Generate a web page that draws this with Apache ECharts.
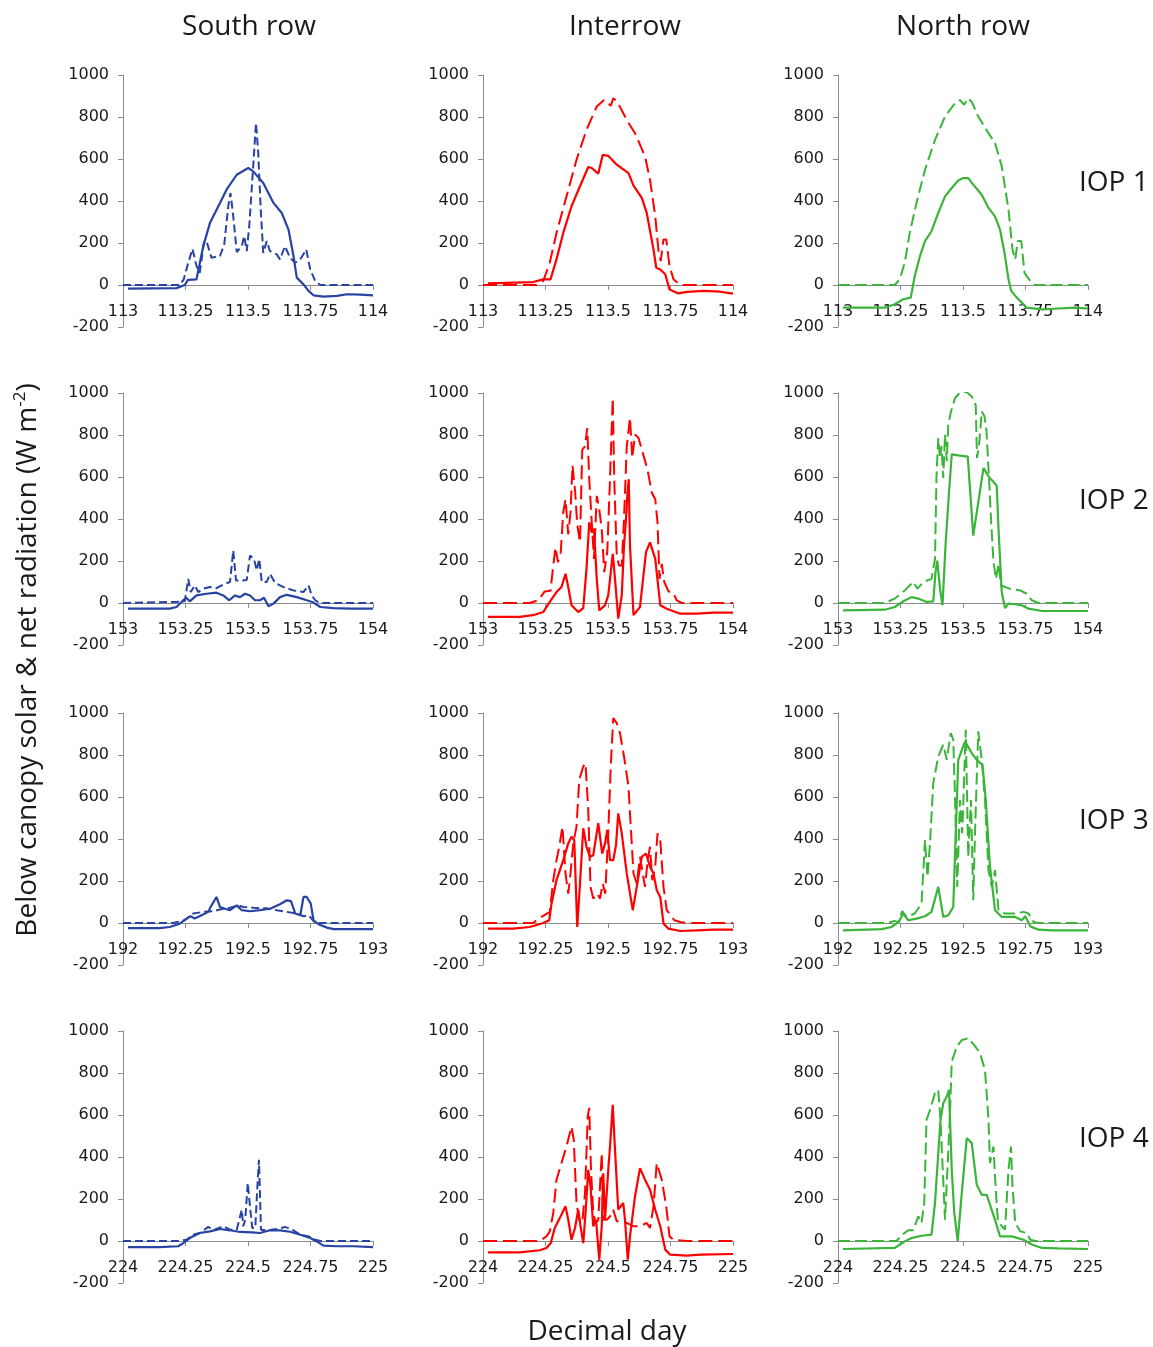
<!DOCTYPE html>
<html>
<head>
<meta charset="utf-8">
<script src="https://cdn.jsdelivr.net/npm/echarts@6/dist/echarts.min.js"></script>
<style>
  html, body { margin: 0; padding: 0; background: #fff; }
  #chart { width: 1153px; height: 1347px; }
</style>
</head>
<body>
<div id="chart"></div>
<script>
// Decimal day at the start of each IOP (rows)
const days = [113, 153, 192, 224];
const columnTitles = ['South row', 'Interrow', 'North row'];
const iopLabels = ['IOP 1', 'IOP 2', 'IOP 3', 'IOP 4'];
const yMin = -200, yMax = 1000, yStep = 200;

// Each point: [fraction of the day, W m-2]. "net" = net radiation (solid), "solar" = solar radiation (dashed)

// ---- IOP 1 ----
const south1Net = [[0.02,-17],[0.214,-15],[0.247,0],[0.26,24],[0.294,27],[0.321,185],[0.348,296],[0.388,390],[0.414,454],[0.455,525],[0.501,557],[0.521,541],[0.561,486],[0.602,391],[0.635,343],[0.662,264],[0.682,138],[0.695,35],[0.722,3],[0.742,-28],[0.762,-49],[0.802,-55],[0.856,-52],[0.896,-44],[0.949,-46],[1.0,-49]];
const south1Solar = [[0.0,0],[0.227,0],[0.243,27],[0.261,106],[0.278,172],[0.294,90],[0.307,58],[0.324,204],[0.334,209],[0.354,130],[0.388,138],[0.405,193],[0.421,375],[0.43,438],[0.441,327],[0.455,157],[0.475,185],[0.485,233],[0.495,161],[0.505,280],[0.519,533],[0.532,771],[0.541,628],[0.551,359],[0.561,153],[0.575,209],[0.588,161],[0.615,146],[0.628,122],[0.648,185],[0.668,130],[0.689,106],[0.709,122],[0.733,169],[0.749,74],[0.769,19],[0.789,0],[1.0,0]];
const inter1Net = [[0.02,8],[0.2,14],[0.241,27],[0.27,27],[0.294,122],[0.321,248],[0.354,375],[0.388,470],[0.421,562],[0.435,557],[0.461,530],[0.479,620],[0.501,615],[0.535,573],[0.582,533],[0.602,473],[0.635,415],[0.655,343],[0.682,169],[0.693,82],[0.709,74],[0.729,51],[0.746,-21],[0.782,-40],[0.816,-33],[0.882,-28],[0.949,-32],[1.0,-41]];
const inter1Solar = [[0.0,0],[0.214,0],[0.241,19],[0.267,106],[0.294,248],[0.334,422],[0.374,596],[0.414,739],[0.455,850],[0.484,881],[0.501,866],[0.511,853],[0.521,889],[0.537,873],[0.575,786],[0.608,723],[0.628,668],[0.648,612],[0.668,502],[0.689,327],[0.702,161],[0.711,114],[0.722,217],[0.733,217],[0.746,90],[0.762,27],[0.789,0],[1.0,0]];
const north1Net = [[0.02,-108],[0.187,-108],[0.227,-92],[0.261,-68],[0.291,-60],[0.307,43],[0.328,138],[0.348,209],[0.374,256],[0.401,343],[0.428,422],[0.455,462],[0.481,498],[0.501,509],[0.521,509],[0.541,478],[0.575,430],[0.602,367],[0.628,327],[0.648,264],[0.666,153],[0.682,27],[0.693,-28],[0.715,-60],[0.735,-84],[0.755,-108],[0.816,-116],[0.882,-112],[0.949,-108],[1.0,-112]];
const north1Solar = [[0.0,0],[0.227,0],[0.247,27],[0.267,106],[0.287,248],[0.314,391],[0.348,549],[0.388,691],[0.428,802],[0.468,866],[0.488,881],[0.505,858],[0.519,889],[0.535,873],[0.561,802],[0.602,723],[0.628,676],[0.655,565],[0.682,359],[0.698,169],[0.709,122],[0.719,209],[0.733,209],[0.746,58],[0.769,19],[0.789,0],[1.0,0]];

// ---- IOP 2 ----
const south2Net = [[0.02,-27],[0.187,-27],[0.214,-19],[0.241,13],[0.254,24],[0.267,8],[0.294,36],[0.334,44],[0.374,49],[0.401,36],[0.425,13],[0.448,36],[0.468,28],[0.488,44],[0.508,36],[0.528,13],[0.548,13],[0.564,25],[0.582,-16],[0.602,-3],[0.628,28],[0.655,39],[0.695,28],[0.735,13],[0.762,2],[0.789,-19],[0.842,-24],[0.909,-27],[1.0,-27]];
const south2Solar = [[0.0,0],[0.207,5],[0.247,8],[0.261,115],[0.271,52],[0.287,84],[0.301,52],[0.321,68],[0.348,76],[0.374,71],[0.408,92],[0.428,100],[0.441,250],[0.452,107],[0.475,107],[0.495,110],[0.508,226],[0.524,210],[0.535,155],[0.545,210],[0.555,100],[0.575,100],[0.588,139],[0.608,96],[0.642,76],[0.682,60],[0.722,52],[0.742,84],[0.755,36],[0.769,13],[0.789,0],[1.0,0]];
const inter2Net = [[0.02,-66],[0.147,-66],[0.2,-58],[0.241,-43],[0.267,5],[0.294,52],[0.314,76],[0.33,139],[0.341,76],[0.354,-11],[0.381,-43],[0.401,-24],[0.414,163],[0.425,384],[0.435,336],[0.444,352],[0.455,115],[0.465,-35],[0.488,-11],[0.501,36],[0.519,234],[0.528,115],[0.541,-74],[0.555,36],[0.564,273],[0.572,400],[0.578,526],[0.583,589],[0.588,273],[0.602,-58],[0.628,-19],[0.652,242],[0.668,289],[0.689,210],[0.709,-11],[0.735,-27],[0.789,-51],[0.856,-51],[0.922,-46],[1.0,-46]];
const inter2Solar = [[0.0,0],[0.187,0],[0.221,13],[0.247,55],[0.27,58],[0.281,178],[0.29,265],[0.3,194],[0.311,242],[0.321,431],[0.33,494],[0.341,327],[0.35,431],[0.358,656],[0.368,537],[0.377,374],[0.388,289],[0.397,730],[0.408,746],[0.417,833],[0.425,589],[0.435,384],[0.444,210],[0.455,510],[0.464,455],[0.475,352],[0.485,147],[0.497,242],[0.508,589],[0.519,976],[0.525,589],[0.535,226],[0.544,178],[0.555,178],[0.564,400],[0.575,747],[0.588,882],[0.597,690],[0.608,802],[0.622,786],[0.639,715],[0.658,636],[0.675,526],[0.689,494],[0.698,384],[0.706,115],[0.715,186],[0.725,100],[0.742,55],[0.759,52],[0.775,13],[0.795,0],[1.0,0]];
const north2Net = [[0.02,-35],[0.187,-32],[0.227,-19],[0.261,8],[0.294,28],[0.321,21],[0.354,5],[0.381,8],[0.39,147],[0.397,202],[0.408,68],[0.418,-11],[0.43,273],[0.444,526],[0.455,708],[0.481,703],[0.519,697],[0.541,321],[0.561,479],[0.582,643],[0.602,603],[0.635,558],[0.642,352],[0.655,52],[0.668,-24],[0.682,-3],[0.709,-6],[0.735,-11],[0.762,-27],[0.816,-38],[0.896,-38],[1.0,-38]];
const north2Solar = [[0.0,0],[0.187,0],[0.227,21],[0.267,60],[0.301,100],[0.318,68],[0.341,100],[0.374,115],[0.388,210],[0.394,605],[0.401,785],[0.408,690],[0.414,747],[0.421,595],[0.428,802],[0.435,675],[0.441,848],[0.452,912],[0.468,975],[0.488,1003],[0.513,1006],[0.535,983],[0.551,942],[0.556,690],[0.564,747],[0.575,912],[0.586,889],[0.594,818],[0.604,595],[0.612,400],[0.622,194],[0.632,115],[0.642,186],[0.652,84],[0.668,76],[0.695,65],[0.729,60],[0.755,44],[0.775,13],[0.802,0],[1.0,0]];

// ---- IOP 3 ----
const south3Net = [[0.02,-24],[0.147,-24],[0.187,-19],[0.227,-3],[0.254,21],[0.27,32],[0.287,21],[0.314,37],[0.341,53],[0.354,84],[0.374,124],[0.388,76],[0.408,68],[0.428,61],[0.455,84],[0.475,61],[0.508,56],[0.548,61],[0.588,68],[0.628,89],[0.655,108],[0.672,104],[0.689,45],[0.709,37],[0.722,124],[0.735,124],[0.751,92],[0.762,13],[0.782,-6],[0.816,-22],[0.842,-29],[0.922,-29],[1.0,-29]];
const south3Solar = [[0.0,0],[0.2,0],[0.247,13],[0.281,45],[0.321,53],[0.361,56],[0.401,68],[0.428,73],[0.461,84],[0.481,76],[0.521,73],[0.575,70],[0.615,61],[0.655,53],[0.695,45],[0.722,32],[0.742,37],[0.769,0],[1.0,0]];
const inter3Net = [[0.02,-27],[0.12,-27],[0.187,-19],[0.241,0],[0.265,13],[0.274,92],[0.294,204],[0.321,299],[0.341,379],[0.354,411],[0.365,395],[0.377,-19],[0.388,188],[0.401,451],[0.414,363],[0.428,315],[0.441,323],[0.461,475],[0.477,331],[0.488,379],[0.497,443],[0.508,299],[0.521,299],[0.532,371],[0.541,522],[0.555,427],[0.575,236],[0.599,61],[0.615,172],[0.635,315],[0.652,331],[0.668,268],[0.682,236],[0.695,156],[0.709,124],[0.722,-3],[0.742,-27],[0.789,-38],[0.856,-35],[0.922,-32],[1.0,-32]];
const inter3Solar = [[0.0,0],[0.2,0],[0.234,29],[0.267,53],[0.281,204],[0.294,299],[0.305,363],[0.318,459],[0.33,236],[0.341,140],[0.35,236],[0.361,379],[0.374,459],[0.385,682],[0.401,745],[0.41,761],[0.421,538],[0.43,172],[0.441,116],[0.457,140],[0.468,116],[0.479,188],[0.489,140],[0.501,427],[0.511,745],[0.521,976],[0.535,952],[0.548,904],[0.564,793],[0.582,650],[0.591,459],[0.602,236],[0.615,188],[0.628,315],[0.639,236],[0.648,172],[0.659,299],[0.668,363],[0.677,204],[0.689,268],[0.698,427],[0.709,395],[0.722,172],[0.735,61],[0.751,37],[0.765,13],[0.789,5],[0.816,0],[1.0,0]];
const north3Net = [[0.02,-35],[0.174,-29],[0.214,-19],[0.243,5],[0.261,45],[0.281,13],[0.314,21],[0.348,32],[0.374,53],[0.401,172],[0.421,29],[0.441,37],[0.461,76],[0.481,777],[0.508,865],[0.535,809],[0.555,777],[0.578,753],[0.591,586],[0.608,268],[0.628,61],[0.655,29],[0.709,29],[0.735,13],[0.749,32],[0.769,-16],[0.802,-32],[0.856,-35],[1.0,-35]];
const north3Solar = [[0.0,0],[0.2,0],[0.225,10],[0.241,4],[0.257,57],[0.274,29],[0.307,45],[0.334,92],[0.348,395],[0.358,220],[0.368,379],[0.381,666],[0.401,793],[0.421,849],[0.435,777],[0.451,904],[0.461,873],[0.468,602],[0.477,172],[0.488,586],[0.497,427],[0.511,920],[0.521,315],[0.532,586],[0.541,108],[0.548,427],[0.561,912],[0.575,777],[0.588,586],[0.602,252],[0.615,172],[0.628,252],[0.642,61],[0.668,45],[0.709,45],[0.742,53],[0.762,45],[0.782,5],[0.8,0],[1.0,0]];

// ---- IOP 4 ----
const south4Net = [[0.02,-29],[0.147,-29],[0.221,-25],[0.241,-10],[0.267,14],[0.307,38],[0.348,46],[0.388,57],[0.428,51],[0.468,43],[0.515,41],[0.548,38],[0.588,51],[0.628,51],[0.668,44],[0.709,30],[0.749,14],[0.775,-2],[0.802,-22],[0.856,-25],[0.922,-25],[1.0,-29]];
const south4Solar = [[0.0,0],[0.221,0],[0.254,6],[0.281,30],[0.307,38],[0.341,67],[0.361,51],[0.401,70],[0.428,54],[0.455,54],[0.475,149],[0.481,70],[0.489,101],[0.499,276],[0.508,165],[0.517,62],[0.529,62],[0.539,292],[0.544,387],[0.552,54],[0.575,51],[0.615,57],[0.648,67],[0.682,51],[0.709,30],[0.742,22],[0.769,6],[0.789,0],[1.0,0]];
const inter4Net = [[0.02,-54],[0.147,-54],[0.227,-44],[0.254,-33],[0.271,-10],[0.287,62],[0.307,109],[0.33,165],[0.341,101],[0.354,6],[0.368,62],[0.381,149],[0.39,70],[0.401,-10],[0.41,133],[0.421,339],[0.43,260],[0.441,70],[0.452,101],[0.465,-89],[0.475,70],[0.481,323],[0.488,101],[0.501,339],[0.508,450],[0.519,648],[0.528,434],[0.541,149],[0.561,181],[0.568,101],[0.579,-89],[0.588,22],[0.608,212],[0.628,347],[0.648,292],[0.668,244],[0.689,149],[0.709,70],[0.729,-41],[0.749,-65],[0.816,-70],[0.869,-65],[1.0,-62]];
const inter4Solar = [[0.0,0],[0.227,0],[0.254,22],[0.267,46],[0.281,133],[0.294,292],[0.314,371],[0.334,450],[0.354,545],[0.363,482],[0.374,181],[0.385,101],[0.397,86],[0.408,228],[0.419,593],[0.425,634],[0.432,339],[0.441,133],[0.451,86],[0.461,101],[0.475,418],[0.481,101],[0.495,101],[0.508,117],[0.521,149],[0.535,94],[0.555,94],[0.575,86],[0.602,70],[0.628,70],[0.655,86],[0.668,62],[0.682,165],[0.695,371],[0.715,292],[0.733,165],[0.746,22],[0.762,6],[0.816,0],[1.0,0]];
const north4Net = [[0.02,-38],[0.227,-33],[0.261,-6],[0.294,14],[0.334,25],[0.374,30],[0.388,181],[0.401,418],[0.41,577],[0.421,656],[0.435,688],[0.444,720],[0.455,339],[0.465,133],[0.479,0],[0.495,228],[0.515,490],[0.535,466],[0.555,268],[0.575,220],[0.595,220],[0.628,101],[0.648,22],[0.695,22],[0.742,6],[0.775,-17],[0.816,-33],[0.882,-35],[1.0,-38]];
const north4Solar = [[0.0,0],[0.234,0],[0.257,30],[0.281,51],[0.301,51],[0.321,117],[0.334,86],[0.345,181],[0.354,577],[0.368,624],[0.388,704],[0.401,720],[0.41,577],[0.419,339],[0.428,101],[0.437,323],[0.447,577],[0.455,854],[0.475,925],[0.495,957],[0.521,965],[0.545,933],[0.568,894],[0.588,815],[0.602,577],[0.608,371],[0.622,450],[0.628,307],[0.639,101],[0.655,70],[0.668,54],[0.682,339],[0.692,450],[0.698,260],[0.709,86],[0.729,46],[0.755,38],[0.769,6],[0.789,0],[1.0,0]];

const panels = [
  [[south1Net, south1Solar], [inter1Net, inter1Solar], [north1Net, north1Solar]],
  [[south2Net, south2Solar], [inter2Net, inter2Solar], [north2Net, north2Solar]],
  [[south3Net, south3Solar], [inter3Net, inter3Solar], [north3Net, north3Solar]],
  [[south4Net, south4Solar], [inter4Net, inter4Solar], [north4Net, north4Solar]]
];

// Styling per column: colour and dash pattern of the solar line
const colColors = ['#2743a3', '#ff0000', '#3ab53a'];
const colDash = [[8, 4], [14, 6], [12, 5]];

// Layout of the 4 x 3 panel grid (pixels)
const colLeft = [123, 483, 838];
const rowTop = [75, 393, 713, 1031];
const plotW = 250, plotH = 252;
// The day axis crosses the value axis at 0: shift it up from the bottom edge accordingly
const xAxisOffset = -plotH * (0 - yMin) / (yMax - yMin);

const axisFont = 'DejaVu Sans';
const titleFont = '"Open Sans", "Noto Sans", sans-serif';

const grids = [], xAxes = [], yAxes = [], series = [];
days.forEach((day, r) => {
  for (let c = 0; c < 3; c++) {
    const idx = grids.length;
    grids.push({ left: colLeft[c], top: rowTop[r], width: plotW, height: plotH, containLabel: false });
    xAxes.push({
      type: 'value', gridIndex: idx, min: day, max: day + 1, interval: 0.25,
      position: 'bottom', offset: xAxisOffset,
      axisLine: { show: true, onZero: false, lineStyle: { color: '#8c8c8c', width: 1 } },
      axisTick: { show: true, length: 5, lineStyle: { color: '#8c8c8c' } },
      axisLabel: { color: '#1a1a1a', fontSize: 16, fontFamily: axisFont, margin: 19,
        formatter: v => String(Math.round(v * 100) / 100) },
      splitLine: { show: false }
    });
    yAxes.push({
      type: 'value', gridIndex: idx, min: yMin, max: yMax, interval: yStep,
      axisLine: { show: true, onZero: false, lineStyle: { color: '#8c8c8c', width: 1 } },
      axisTick: { show: true, length: 5, lineStyle: { color: '#8c8c8c' } },
      axisLabel: { color: '#1a1a1a', fontSize: 16, fontFamily: axisFont, margin: 14,
        formatter: v => String(v) },
      splitLine: { show: false }
    });
    const [net, solar] = panels[r][c];
    series.push({
      type: 'line', xAxisIndex: idx, yAxisIndex: idx, showSymbol: false, animation: false,
      data: solar.map(p => [day + p[0], p[1]]),
      lineStyle: { color: colColors[c], width: 2, type: colDash[c] }
    });
    series.push({
      type: 'line', xAxisIndex: idx, yAxisIndex: idx, showSymbol: false, animation: false,
      data: net.map(p => [day + p[0], p[1]]),
      lineStyle: { color: colColors[c], width: 2.2, type: 'solid' }
    });
  }
});

const graphics = [];
const titleCenters = [249, 625, 963];
columnTitles.forEach((t, c) => {
  graphics.push({ type: 'text', x: titleCenters[c], y: 27,
    style: { text: t, font: '28px ' + titleFont, fill: '#1a1a1a', textAlign: 'center', textVerticalAlign: 'middle' } });
});
iopLabels.forEach((t, r) => {
  graphics.push({ type: 'text', x: 1079, y: rowTop[r] + 108,
    style: { text: t, font: '28px ' + titleFont, fill: '#1a1a1a', textAlign: 'left', textVerticalAlign: 'middle' } });
});
graphics.push({ type: 'text', x: 607, y: 1332,
  style: { text: 'Decimal day', font: '28px ' + titleFont, fill: '#1a1a1a', textAlign: 'center', textVerticalAlign: 'middle' } });
graphics.push({ type: 'text', x: 27, y: 660, rotation: Math.PI / 2,
  style: {
    text: '{n|Below canopy solar & net radiation (W m}{s|-2}{n|)}',
    textAlign: 'center', textVerticalAlign: 'middle',
    rich: {
      n: { font: '28px ' + titleFont, fill: '#1a1a1a', verticalAlign: 'bottom' },
      s: { font: '17px ' + titleFont, fill: '#1a1a1a', verticalAlign: 'top', padding: [0, 0, 13, 0] }
    }
  } });

const chart = echarts.init(document.getElementById('chart'), null, { renderer: 'canvas' });
chart.setOption({
  backgroundColor: '#ffffff',
  animation: false,
  grid: grids, xAxis: xAxes, yAxis: yAxes, series: series,
  graphic: graphics
});
</script>
</body>
</html>
